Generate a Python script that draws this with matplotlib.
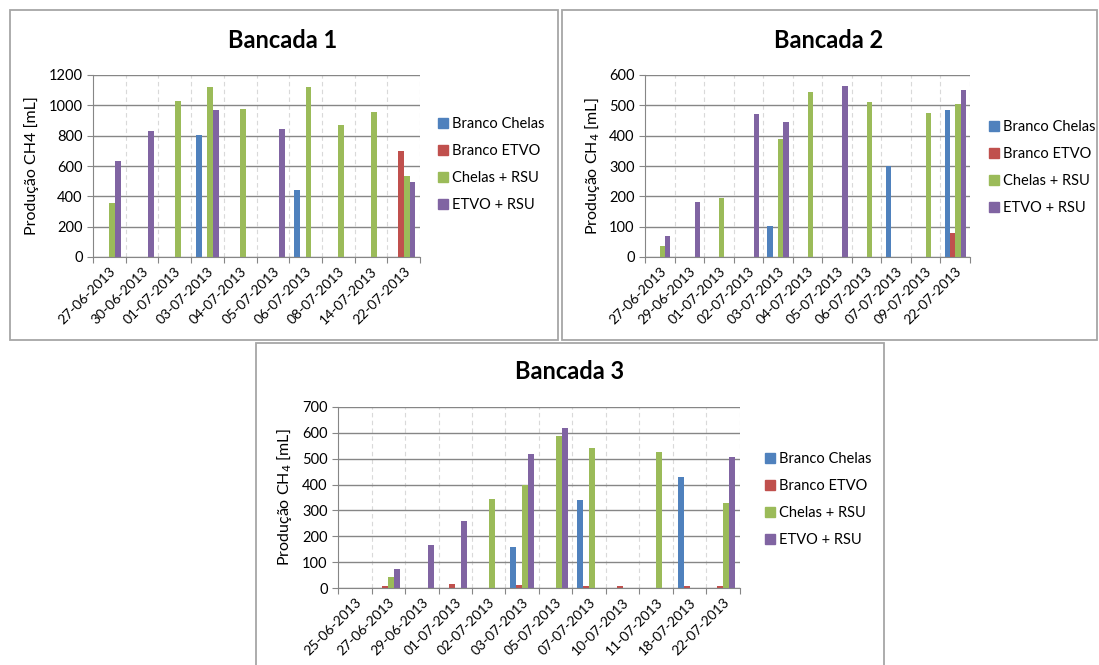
import numpy as np
import matplotlib.pyplot as plt
from matplotlib.patches import Rectangle, Patch

plt.rcParams['font.family'] = ['Lato', 'DejaVu Sans']

series = ["Branco Chelas", "Branco ETVO", "Chelas + RSU", "ETVO + RSU"]
colors = ['#4F81BD', '#C0504D', '#9BBB59', '#8064A2']

# Bancada 1
dates1 = ["27-06-2013", "30-06-2013", "01-07-2013", "03-07-2013", "04-07-2013",
          "05-07-2013", "06-07-2013", "08-07-2013", "14-07-2013", "22-07-2013"]
b1_branco_chelas = [0, 0, 0, 802, 0, 0, 440, 0, 0, 0]
b1_branco_etvo = [0, 0, 0, 0, 0, 0, 0, 0, 0, 698]
b1_chelas_rsu = [357, 0, 1029, 1121, 976, 0, 1121, 870, 954, 537]
b1_etvo_rsu = [630, 833, 0, 969, 0, 841, 0, 0, 0, 493]

# Bancada 2
dates2 = ["27-06-2013", "29-06-2013", "01-07-2013", "02-07-2013", "03-07-2013",
          "04-07-2013", "05-07-2013", "06-07-2013", "07-07-2013", "09-07-2013",
          "22-07-2013"]
b2_branco_chelas = [0, 0, 0, 0, 101, 0, 0, 0, 301, 0, 485]
b2_branco_etvo = [0, 0, 0, 0, 0, 0, 0, 0, 0, 0, 80]
b2_chelas_rsu = [35, 0, 194, 0, 390, 545, 0, 511, 0, 474, 503]
b2_etvo_rsu = [69, 180, 0, 470, 444, 0, 564, 0, 0, 0, 550]

# Bancada 3
dates3 = ["25-06-2013", "27-06-2013", "29-06-2013", "01-07-2013", "02-07-2013",
          "03-07-2013", "05-07-2013", "07-07-2013", "10-07-2013", "11-07-2013",
          "18-07-2013", "22-07-2013"]
b3_branco_chelas = [0, 0, 0, 0, 0, 160, 0, 341, 0, 0, 429, 0]
b3_branco_etvo = [0, 6, 0, 15, 0, 12, 0, 6, 6, 0, 6, 6]
b3_chelas_rsu = [0, 42, 0, 0, 344, 400, 586, 542, 0, 525, 0, 327]
b3_etvo_rsu = [0, 73, 165, 261, 0, 520, 617, 0, 0, 0, 0, 507]

W, H = 1099, 665
fig = plt.figure(figsize=(W / 100, H / 100), dpi=100)


def fx(px):
    return px / W


def fy(py):
    return 1 - py / H


# panel frames
for (x0, y0, x1, y1) in [(10, 10, 558, 340), (562, 10, 1097, 340), (256, 343, 884, 668)]:
    fig.patches.append(Rectangle((fx(x0), fy(y1)), fx(x1 - x0), (y1 - y0) / H,
                                 transform=fig.transFigure, fill=False,
                                 edgecolor='#A6A6A6', linewidth=1.3))


def draw(box, dates, data, ymax, ystep, title, title_xy, ylab, ylab_x, leg_xy):
    l, t, r, b = box
    ax = fig.add_axes([fx(l), fy(b), fx(r - l), (b - t) / H])
    n = len(dates)
    x = np.arange(n)
    w = 0.18
    for i, vals in enumerate(data):
        ax.bar(x + (i - 1.5) * w, vals, w, color=colors[i], linewidth=0)
    ax.set_xlim(-0.5, n - 0.5)
    ax.set_ylim(0, ymax)
    ax.set_yticks(np.arange(0, ymax + 1, ystep))
    ax.set_xticks(np.arange(n + 1) - 0.5)
    ax.set_xticklabels([])
    ax.set_xticks(x, minor=True)
    ax.set_xticklabels(dates, minor=True, rotation=45, ha='right',
                       rotation_mode='anchor', fontsize=10)
    ax.tick_params(axis='x', which='minor', length=0, pad=6)
    ax.tick_params(axis='x', which='major', length=4, color='#868686')
    ax.tick_params(axis='y', length=4, color='#868686', labelsize=10.5)
    for s in ['top', 'right']:
        ax.spines[s].set_visible(False)
    for s in ['left', 'bottom']:
        ax.spines[s].set_color('#868686')
    ax.set_axisbelow(True)
    ax.yaxis.grid(True, color='#868686', linewidth=1)
    for xb in np.arange(1, n + 1) - 0.5:
        ax.axvline(xb, color='#D9D9D9', linestyle=(0, (4, 3)), linewidth=0.8, zorder=0)
    fig.text(fx(title_xy[0]), fy(title_xy[1]), title, ha='center', va='center',
             fontsize=17, fontweight='bold')
    fig.text(fx(ylab_x), fy((t + b) / 2), ylab, rotation=90, ha='center',
             va='center', fontsize=11.5)
    handles = [Patch(color=c) for c in colors]
    fig.legend(handles, series, loc='upper left',
               bbox_to_anchor=(fx(leg_xy[0]), fy(leg_xy[1])), frameon=False,
               fontsize=10.5, handlelength=0.7, handleheight=0.7,
               handletextpad=0.25, labelspacing=0.9, borderpad=0, borderaxespad=0)
    return ax


draw((93, 75, 420, 257), dates1,
     [b1_branco_chelas, b1_branco_etvo, b1_chelas_rsu, b1_etvo_rsu],
     1200, 200, "Bancada 1", (283, 41), "Produção CH4 [mL]", 32, (438, 117))
draw((645, 75, 970, 257), dates2,
     [b2_branco_chelas, b2_branco_etvo, b2_chelas_rsu, b2_etvo_rsu],
     600, 100, "Bancada 2", (829, 41), "Produção CH$_4$ [mL]", 592, (989, 120))
draw((338, 407, 740, 588), dates3,
     [b3_branco_chelas, b3_branco_etvo, b3_chelas_rsu, b3_etvo_rsu],
     700, 100, "Bancada 3", (570, 372), "Produção CH$_4$ [mL]", 285, (765, 452))

fig.savefig("out.png", dpi=100)
